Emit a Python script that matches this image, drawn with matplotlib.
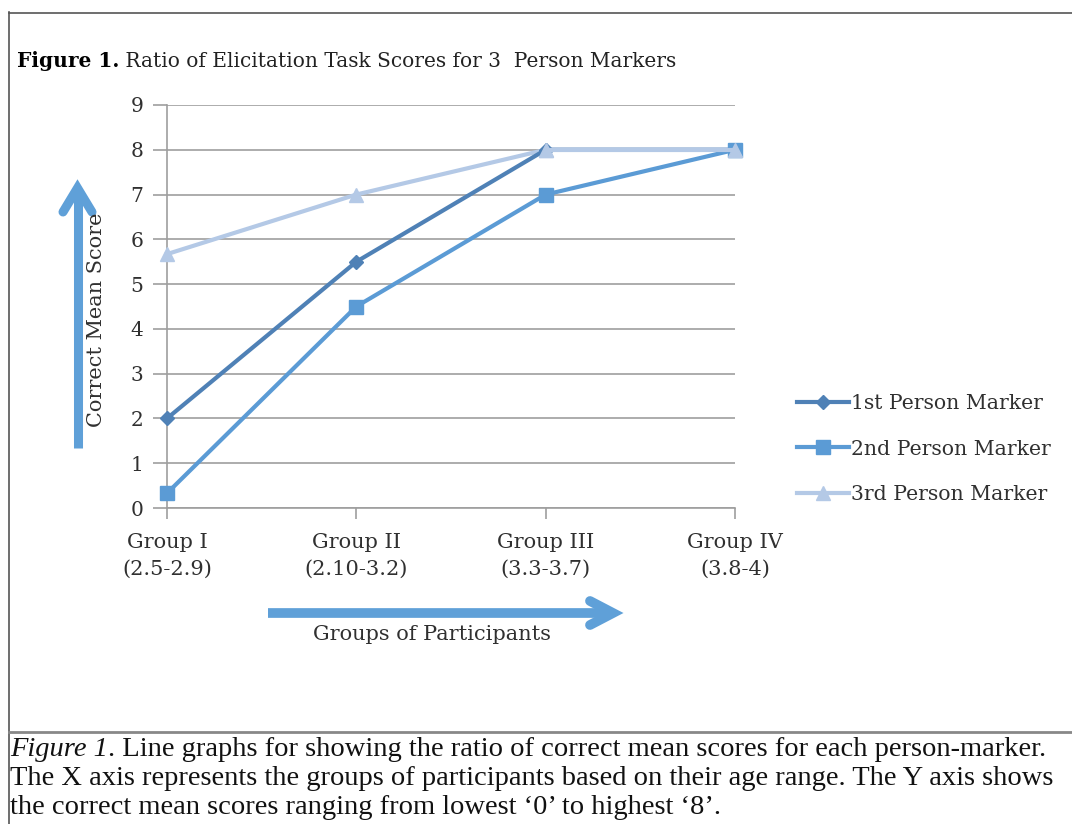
import matplotlib
matplotlib.use("Agg")
import matplotlib.pyplot as plt
from matplotlib.lines import Line2D

groups = ["Group I\n(2.5-2.9)", "Group II\n(2.10-3.2)", "Group III\n(3.3-3.7)", "Group IV\n(3.8-4)"]
first = [2.0, 5.5, 8.0, 8.0]
second = [0.33, 4.5, 7.0, 8.0]
third = [5.67, 7.0, 8.0, 8.0]
series_names = ["1st Person Marker", "2nd Person Marker", "3rd Person Marker"]
yticks = list(range(0, 10))

c1, c2, c3 = "#4F81B6", "#5B9BD5", "#B4C9E6"
chart_font = "DejaVu Serif"
cap_font = "Liberation Serif"
arrow_c = "#5FA0D8"
txt_c = "#303030"

fig = plt.figure(figsize=(10.72, 8.24), dpi=100)
W, H = 1072, 824
def fx(x): return x / W
def fy(y): return 1 - y / H

ax = fig.add_axes([fx(167), fy(508), fx(735) - fx(167), fy(105) - fy(508)])
xs = list(range(len(groups)))
ax.plot(xs, third, color=c3, lw=3, marker="^", ms=10, zorder=3, label=series_names[2])
ax.plot(xs, first, color=c1, lw=3, marker="D", ms=7, zorder=4, label=series_names[0])
ax.plot(xs, second, color=c2, lw=3, marker="s", ms=10, zorder=5, label=series_names[1])
ax.plot(xs[2:], third[2:], color=c3, lw=3, marker="^", ms=10, zorder=6)

ax.set_xlim(0, 3)
ax.set_ylim(0, 9)
ax.set_yticks(yticks)
ax.set_yticklabels([str(v) for v in yticks], fontfamily=chart_font, fontsize=14.5,
                   color=txt_c)
ax.set_xticks(xs)
ax.set_xticklabels(groups, fontfamily=chart_font, fontsize=15, color=txt_c,
                   linespacing=1.55)
ax.grid(axis="y", color="#9E9E9E", lw=1.2, zorder=0)
for s in ["top", "right"]:
    ax.spines[s].set_visible(False)
for s in ["left", "bottom"]:
    ax.spines[s].set_color("#9E9E9E")
    ax.spines[s].set_linewidth(1.2)
ax.tick_params(axis="y", length=10, color="#9E9E9E", width=1.2, pad=7)
ax.tick_params(axis="x", length=8, color="#9E9E9E", width=1.2, pad=10)
for ln in ax.lines:
    ln.set_clip_on(False)

handles = [
    Line2D([], [], color=c1, lw=3, marker="D", ms=7),
    Line2D([], [], color=c2, lw=3, marker="s", ms=10),
    Line2D([], [], color=c3, lw=3, marker="^", ms=10),
]
leg = fig.legend(handles, series_names, loc="center left",
                 bbox_to_anchor=(fx(797), fy(449)), frameon=False,
                 prop={"family": chart_font, "size": 14.7}, handlelength=2.55,
                 handletextpad=0.1, labelspacing=1.3, borderaxespad=0, borderpad=0)
for t in leg.get_texts():
    t.set_color(txt_c)

renderer = fig.canvas.get_renderer()

def text_after(x_px, y_px, parts, **common):
    """Place text parts one after another on the same baseline."""
    x = x_px
    for s, kw in parts:
        t = fig.text(fx(x), fy(y_px), s, va="baseline", ha="left", **common, **kw)
        bb = t.get_window_extent(renderer)
        x += bb.width
    return x

# Title
text_after(17, 67, [("Figure 1.", dict(fontweight="bold")),
                    (" Ratio of Elicitation Task Scores for 3  Person Markers", dict(color="#222222"))],
           fontfamily=chart_font, fontsize=14.5)

# Axis labels
fig.text(fx(96), fy(320), "Correct Mean Score", fontfamily=chart_font, fontsize=15,
         rotation=90, va="center", ha="center", color=txt_c)
fig.text(fx(432), fy(635), "Groups of Participants", fontfamily=chart_font, fontsize=15,
         va="center", ha="center", color=txt_c)

# Arrows
fig.add_artist(Line2D([fx(77.5), fx(77.5)], [fy(448), fy(192)], transform=fig.transFigure,
                      color=arrow_c, lw=6.5, solid_capstyle="butt"))
fig.add_artist(Line2D([fx(63), fx(77.5), fx(92)], [fy(212), fy(188), fy(212)],
                      transform=fig.transFigure, color=arrow_c, lw=6.5,
                      solid_capstyle="round", solid_joinstyle="miter"))
fig.add_artist(Line2D([fx(268), fx(612)], [fy(613), fy(613)], transform=fig.transFigure,
                      color=arrow_c, lw=7, solid_capstyle="butt"))
fig.add_artist(Line2D([fx(590), fx(613), fx(590)], [fy(601), fy(613), fy(625)],
                      transform=fig.transFigure, color=arrow_c, lw=7,
                      solid_capstyle="round", solid_joinstyle="miter"))

# Border box
fig.add_artist(Line2D([fx(8.5), fx(8.5)], [fy(12), fy(824)], transform=fig.transFigure,
                      color="#555555", lw=1.2))
fig.add_artist(Line2D([fx(8.5), fx(1072)], [fy(12.5), fy(12.5)], transform=fig.transFigure,
                      color="#555555", lw=1.2))
fig.add_artist(Line2D([fx(8.5), fx(1072)], [fy(732), fy(732)], transform=fig.transFigure,
                      color="#888888", lw=2))

# Caption
cap_kw = dict(fontfamily=cap_font, fontsize=20.5, color="#111111")
text_after(10, 756, [("Figure 1", dict(fontstyle="italic")),
                     (". Line graphs for showing the ratio of correct mean scores for each person-marker.", {})],
           **cap_kw)
text_after(10, 785, [("The X axis represents the groups of participants based on their age range. The Y axis shows", {})],
           **cap_kw)
text_after(10, 814, [("the correct mean scores ranging from lowest \u20180\u2019 to highest \u20188\u2019.", {})],
           **cap_kw)

fig.savefig("out.png", dpi=100)
